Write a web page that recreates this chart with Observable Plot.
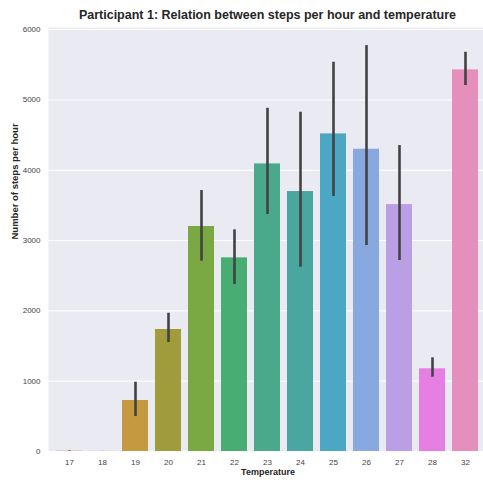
<!DOCTYPE html>
<html>
<head>
<meta charset="utf-8">
<script src="https://cdn.jsdelivr.net/npm/d3@7"></script>
<script src="https://cdn.jsdelivr.net/npm/@observablehq/plot@0.6"></script>
<style>
  html, body { margin: 0; padding: 0; background: white; overflow: hidden; }
  #title { height: 24px; width: 483px; box-sizing: border-box; padding-left: 52px; text-align: center;
    font: bold 12.5px "Liberation Sans", Arial, sans-serif; color: #262626; line-height: 31px; }
</style>
</head>
<body>
<div id="title">Participant 1: Relation between steps per hour and temperature</div>
<div id="chart"></div>
<script>
const temperatures = ["17", "18", "19", "20", "21", "22", "23", "24", "25", "26", "27", "28", "32"];
const meanSteps = [4, 1, 725, 1735, 3200, 2754, 4090, 3697, 4517, 4299, 3512, 1176, 5427];
const ciLow  = [0, 0, 497, 1550, 2706, 2374, 3370, 2621, 3626, 2929, 2716, 1057, 5204];
const ciHigh = [8, 2, 985, 1966, 3711, 3152, 4881, 4825, 5536, 5773, 4351, 1332, 5678];
const barColors = ["#e0736f", "#d28a4f", "#c4993f", "#a09c3c", "#7aa944", "#48ad73", "#4aa98b",
                   "#49a6a1", "#4ca7c4", "#87a9e0", "#bb9fe4", "#e57fe1", "#e58fbd"];
const yTicks = [0, 1000, 2000, 3000, 4000, 5000, 6000];
const xLabel = "Temperature";
const yLabel = "Number of steps per hour";

const data = temperatures.map((t, i) => ({t, mean: meanSteps[i], lo: ciLow[i], hi: ciHigh[i]}));

const chart = Plot.plot({
  width: 483,
  height: 456,
  marginLeft: 48,
  marginRight: -4,
  marginTop: 3,
  marginBottom: 29,
  style: {fontFamily: "'Liberation Sans', Arial, sans-serif", fontSize: "8px", color: "#444", overflow: "visible"},
  x: {domain: temperatures, paddingInner: 0.2, paddingOuter: 0.1, label: null},
  y: {domain: [0, 6030], label: null},
  color: {domain: temperatures, range: barColors},
  marks: [
    Plot.frame({fill: "#eaeaf2", stroke: null}),
    Plot.gridY(yTicks, {stroke: "white", strokeOpacity: 1, strokeWidth: 1}),
    Plot.barY(data, {x: "t", y: "mean", fill: "t"}),
    Plot.ruleX(data, {x: "t", y1: "lo", y2: "hi", stroke: "#424242", strokeWidth: 2.6}),
    Plot.axisY(yTicks, {tickSize: 0, tickPadding: 8, tickFormat: d => String(d), label: null, fill: "#444"}),
    Plot.axisX({tickSize: 0, tickPadding: 8, label: null, fill: "#444"}),
    Plot.text([xLabel], {frameAnchor: "bottom", dy: 23, fontWeight: "bold", fontSize: 9, fill: "#262626"}),
    Plot.text([yLabel], {frameAnchor: "left", dx: -34, rotate: -90, fontWeight: "bold", fontSize: 9.5, fill: "#262626"})
  ]
});
document.getElementById("chart").appendChild(chart);
</script>
</body>
</html>
